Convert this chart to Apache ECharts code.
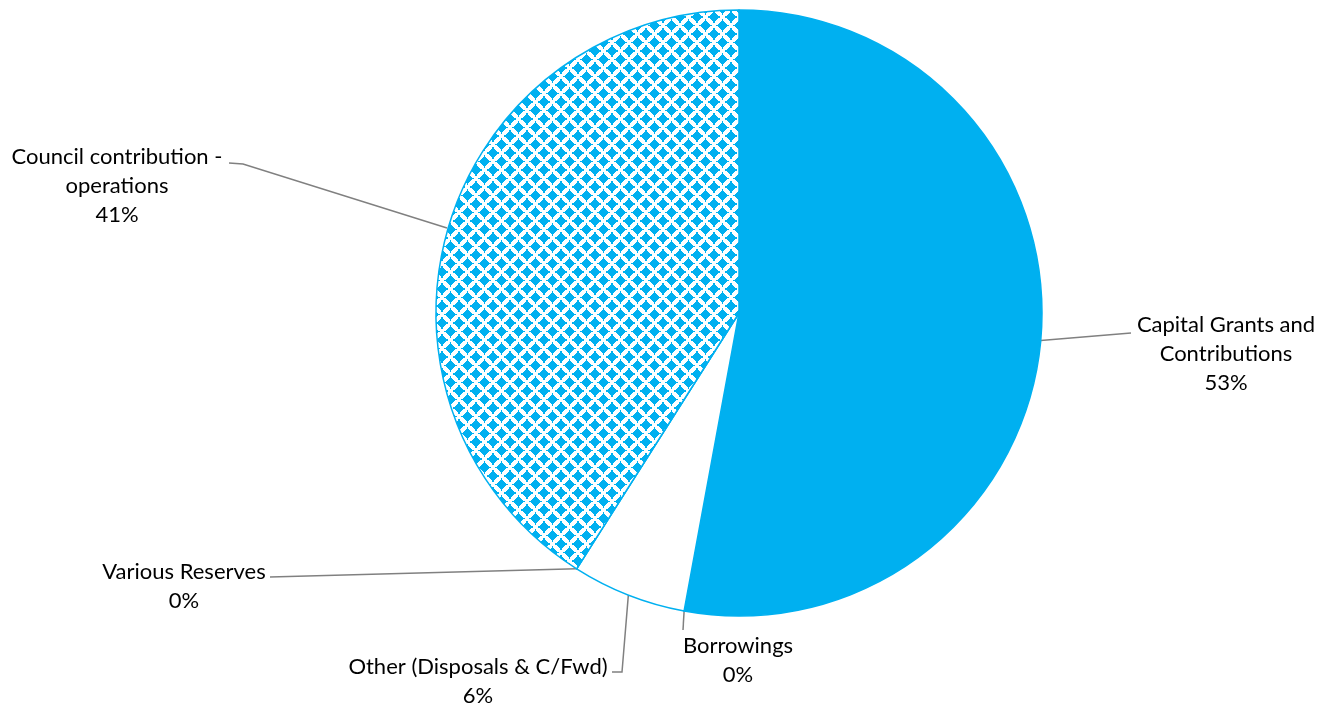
<!DOCTYPE html>
<html>
<head>
<meta charset="utf-8">
<script src="https://cdn.jsdelivr.net/npm/echarts@6/dist/echarts.min.js"></script>
<style>
  html, body { margin: 0; padding: 0; background: #fff; }
  #main { width: 1320px; height: 706px; }
</style>
</head>
<body>
<div id="main"></div>
<script>
var categories = [
    'Capital Grants and\nContributions',
    'Borrowings',
    'Other (Disposals & C/Fwd)',
    'Various Reserves',
    'Council contribution -\noperations'
];
var values = [52.9, 0, 6.1, 0, 41.0];

var blue = '#00B0F0';

// stepped diamond pattern for the council slice, drawn pixel by pixel
var makePattern = function () {
    var s = 17, h = 5;
    var c = document.createElement('canvas');
    c.width = s;
    c.height = s;
    var ctx = c.getContext('2d');
    ctx.fillStyle = '#fff';
    ctx.fillRect(0, 0, s, s);
    ctx.fillStyle = blue;
    var centers = [[s / 2, s / 2], [0, 0], [s, 0], [0, s], [s, s]];
    for (var y = 0; y < s; y++) {
        for (var x = 0; x < s; x++) {
            var px = x + 0.5, py = y + 0.5;
            for (var k = 0; k < centers.length; k++) {
                var dx = Math.abs(px - centers[k][0]), dy = Math.abs(py - centers[k][1]);
                var nub = (dx < 1 && dy < h + 1.5) || (dy < 1 && dx < h + 1.5);
                if (dx + dy <= h || nub) {
                    ctx.fillRect(x, y, 1, 1);
                    break;
                }
            }
        }
    }
    return c;
};

var fills = [blue, blue, '#fff', blue, {image: makePattern(), repeat: 'repeat'}];

// where each label sits and how its leader line bends
var labelPlaces = [
    {x: 1226, y: 354, line: [[1131, 333]]},
    {x: 738, y: 660, line: [[683, 630]]},
    {x: 478, y: 681, line: [[622, 672], [612, 672]]},
    {x: 184, y: 586, line: [[270, 577]]},
    {x: 117, y: 186, anchor: [447, 228], line: [[243, 164], [229, 163]]}
];

var pieData = [];
for (var i = 0; i < categories.length; i++) {
    pieData.push({
        name: categories[i],
        value: values[i],
        itemStyle: {color: fills[i]}
    });
}

var myChart = echarts.init(document.getElementById('main'));

option = {
    animation: false,
    backgroundColor: '#fff',
    series: [
        {
            type: 'pie',
            center: [739, 313],
            radius: 303,
            startAngle: 90,
            clockwise: true,
            avoidLabelOverlap: false,
            data: pieData,
            itemStyle: {
                borderColor: blue,
                borderWidth: 1.5
            },
            label: {
                show: true,
                position: 'outside',
                formatter: function (p) {
                    return p.name + '\n' + Math.round(p.percent) + '%';
                },
                fontFamily: 'Lato',
                fontSize: 22,
                lineHeight: 29,
                color: '#000',
                align: 'center'
            },
            labelLine: {
                show: true,
                length: 20,
                length2: 20,
                lineStyle: {color: '#808080', width: 1.5}
            },
            emphasis: {disabled: true},
            labelLayout: function (params) {
                var p = labelPlaces[params.dataIndex];
                var start = p.anchor || (params.labelLinePoints ? params.labelLinePoints[0] : p.line[0]);
                return {
                    x: p.x,
                    y: p.y,
                    align: 'center',
                    verticalAlign: 'middle',
                    labelLinePoints: [start].concat(p.line)
                };
            }
        }
    ]
};

myChart.setOption(option);
</script>
</body>
</html>
